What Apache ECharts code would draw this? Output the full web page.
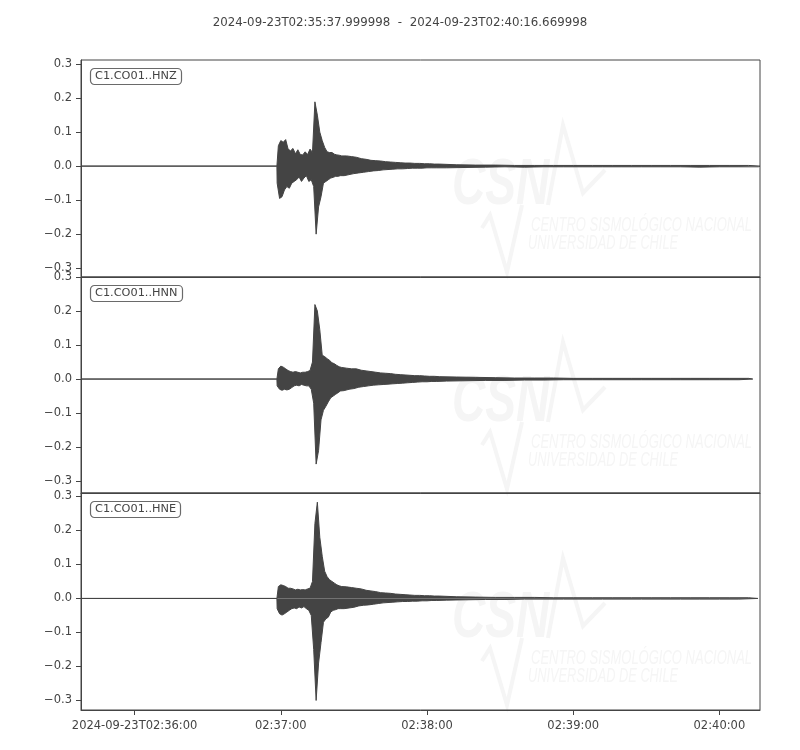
<!DOCTYPE html>
<html><head><meta charset="utf-8">
<script src="https://cdn.jsdelivr.net/npm/echarts@6/dist/echarts.min.js"></script>
<style>html,body{margin:0;padding:0;background:#fff}#c{width:800px;height:750px}</style>
</head><body><div id="c"></div>
<script>
// ---- data (times in seconds after 02:35:00, amplitudes in trace units) ----
const TITLE = '2024-09-23T02:35:37.999998  -  2024-09-23T02:40:16.669998';
const CHANNELS = ['C1.CO01..HNZ', 'C1.CO01..HNN', 'C1.CO01..HNE'];
const TRACE_START = 37.999998;
const TRACE_END = [316.669998, 313.7, 315.8];
const QUIET_END = 118.4;
const SEG_A_START = 118.5, SEG_A_DT = 0.5;
const SEG_B_START = 146, SEG_B_DT = 1;
const SEG_C_START = 188, SEG_C_DT = 4;

const HNZ_A = [-0.05,
  0.06,-0.095,0.075,-0.09,0.07,-0.07,0.078,-0.06,0.05,-0.065,
  0.045,-0.05,0.052,-0.045,0.036,-0.04,0.048,-0.032,0.034,-0.045,
  0.033,-0.035,0.042,-0.028,0.034,-0.045,0.05,-0.04,0.04,-0.06,
  0.189,-0.20,0.15,-0.12,0.10,-0.09,0.075,-0.05,0.055,-0.045,
  0.042,-0.04,0.04,-0.035,0.04,-0.033,0.035,-0.03,0.033,-0.03,
  0.032,-0.028,0.03];
const HNZ_B = [-0.028,0.03,-0.025,0.028,-0.022,0.026,-0.02,0.022,-0.018,0.02,
  -0.016,0.017,-0.014,0.016,-0.013,0.015,-0.011,0.013,-0.01,0.012,
  -0.009,0.011,-0.008,0.01,-0.008,0.009,-0.007,0.009,-0.006,0.008,
  -0.006,0.008,-0.006,0.007,-0.005,0.007,-0.005,0.006,-0.005,0.006];
const HNZ_C = [-0.005,0.004,-0.004,0.003,-0.003,0.003,-0.002,0.002,-0.003,0.002,
  -0.002,0.002,-0.002,0.002,-0.002,0.002,-0.002,0.002,-0.002,0.002,
  -0.002,0.002,-0.002,0.002,-0.002,0.002,-0.003,0.002,-0.002,0.002,
  -0.002,0.002,-0.002];

const HNN_A = [-0.02,
  0.03,-0.03,0.038,-0.033,0.035,-0.03,0.03,-0.032,0.025,-0.03,
  0.022,-0.025,0.02,-0.02,0.022,-0.018,0.02,-0.02,0.018,-0.016,
  0.02,-0.018,0.02,-0.02,0.022,-0.02,0.025,-0.03,0.05,-0.071,
  0.219,-0.25,0.20,-0.21,0.145,-0.12,0.07,-0.092,0.066,-0.08,
  0.06,-0.067,0.055,-0.055,0.048,-0.05,0.045,-0.045,0.04,-0.04,
  0.036,-0.035,0.034];
const HNN_B = [-0.034,0.032,-0.03,0.03,-0.028,0.03,-0.024,0.026,-0.022,0.024,
  -0.02,0.022,-0.018,0.02,-0.017,0.018,-0.016,0.017,-0.015,0.016,
  -0.014,0.014,-0.013,0.013,-0.012,0.012,-0.011,0.011,-0.01,0.01,
  -0.009,0.01,-0.008,0.009,-0.008,0.008,-0.007,0.008,-0.007,0.007];
const HNN_C = [-0.006,0.006,-0.005,0.005,-0.004,0.004,-0.004,0.003,-0.003,0.003,
  -0.003,0.003,-0.002,0.002,-0.002,0.002,-0.002,0.002,-0.002,0.002,
  -0.002,0.002,-0.002,0.002,-0.002,0.002,-0.002,0.002,-0.002,0.002,
  -0.002,0.002];

const HNE_A = [-0.03,
  0.035,-0.045,0.04,-0.049,0.038,-0.045,0.035,-0.04,0.03,-0.035,
  0.03,-0.03,0.028,-0.028,0.025,-0.03,0.027,-0.025,0.025,-0.028,
  0.026,-0.024,0.025,-0.03,0.028,-0.035,0.03,-0.05,0.05,-0.15,
  0.22,-0.30,0.283,-0.19,0.18,-0.13,0.124,-0.07,0.08,-0.06,
  0.064,-0.055,0.055,-0.04,0.05,-0.035,0.045,-0.033,0.04,-0.03,
  0.037,-0.03,0.035];
const HNE_B = [-0.03,0.034,-0.028,0.032,-0.026,0.03,-0.022,0.028,-0.02,0.024,
  -0.019,0.022,-0.017,0.02,-0.015,0.017,-0.013,0.016,-0.012,0.015,
  -0.011,0.013,-0.01,0.012,-0.009,0.011,-0.009,0.01,-0.008,0.009,
  -0.008,0.009,-0.007,0.008,-0.007,0.008,-0.006,0.007,-0.006,0.007];
const HNE_C = [-0.005,0.005,-0.004,0.004,-0.003,0.003,-0.003,0.003,-0.002,0.003,
  -0.002,0.002,-0.002,0.002,-0.002,0.002,-0.002,0.002,-0.002,0.002,
  -0.002,0.002,-0.002,0.002,-0.002,0.002,-0.002,0.002,-0.002,0.002,
  -0.002,0.002];

const X_TICKS = [60, 120, 180, 240, 300];
const X_TICK_LABELS = ['2024-09-23T02:36:00', '02:37:00', '02:38:00', '02:39:00', '02:40:00'];
const Y_TICKS = [-0.3, -0.2, -0.1, 0, 0.1, 0.2, 0.3];
const Y_LIMITS = [[-0.326, 0.312], [-0.335, 0.300], [-0.328, 0.310]];

// ---- build ----
const SEGMENTS = [[HNZ_A, HNZ_B, HNZ_C], [HNN_A, HNN_B, HNN_C], [HNE_A, HNE_B, HNE_C]];
function samples(k) {
  const [a, b, c] = SEGMENTS[k];
  const d = [];
  a.forEach((v, i) => d.push([SEG_A_START + i * SEG_A_DT, v]));
  b.forEach((v, i) => d.push([SEG_B_START + i * SEG_B_DT, v]));
  c.forEach((v, i) => d.push([SEG_C_START + i * SEG_C_DT, v]));
  return d;
}
// envelope of the trace: positive peaks (upper) or negative peaks (lower)
function envelope(k, positive) {
  const pts = samples(k).filter(p => positive ? p[1] > 0 : p[1] < 0);
  return [[TRACE_START, 0], [QUIET_END, 0]].concat(pts, [[TRACE_END[k], 0]]);
}

const FONT = 'DejaVu Sans';
const INK = '#444';
const LEFT = 81, WIDTH = 679;
const TOPS = [60, 277, 493], HEIGHTS = [217, 216, 217];

const fmtY = v => (v < 0 ? '\u2212' : '') + Math.abs(v).toFixed(1);

const grids = [], xAxes = [], yAxes = [], series = [], titles = [], graphics = [];
titles.push({ text: TITLE, left: 'center', top: 12,
  textStyle: { fontFamily: FONT, fontSize: 11.8, fontWeight: 'normal', color: INK } });

for (let k = 0; k < 3; k++) {
  const last = k === 2;
  grids.push({ left: LEFT, top: TOPS[k], width: WIDTH, height: HEIGHTS[k], show: true,
    borderColor: INK, borderWidth: 1, backgroundColor: 'transparent' });
  xAxes.push({ type: 'value', gridIndex: k, min: TRACE_START, max: 316.669998,
    axisLine: { show: true, onZero: false, lineStyle: { color: INK, width: 1 } },
    splitLine: { show: false },
    axisTick: { show: last, customValues: X_TICKS, length: 5, lineStyle: { color: INK } },
    axisLabel: { show: last, customValues: X_TICKS, margin: 10, fontFamily: FONT, fontSize: 11.5, color: INK,
      formatter: v => { const i = X_TICKS.findIndex(t => Math.abs(t - v) < 1e-6); return i >= 0 ? X_TICK_LABELS[i] : ''; } } });
  yAxes.push({ type: 'value', gridIndex: k, min: Y_LIMITS[k][0], max: Y_LIMITS[k][1],
    axisLine: { show: true, lineStyle: { color: INK, width: 1 } },
    splitLine: { show: false },
    axisTick: { show: true, customValues: Y_TICKS, length: 5, lineStyle: { color: INK } },
    axisLabel: { customValues: Y_TICKS, margin: 9, fontFamily: FONT, fontSize: 11.5, color: INK, formatter: fmtY } });
  [true, false].forEach(pos => {
    series.push({ type: 'line', xAxisIndex: k, yAxisIndex: k, data: envelope(k, pos),
      showSymbol: false, symbol: 'none', animation: false, sampling: false, clip: true, z: 3,
      lineStyle: { color: INK, width: 1 },
      areaStyle: { color: INK, opacity: 1, origin: 0 } });
  });
  titles.push({ text: CHANNELS[k], left: 90, top: TOPS[k] + 8, padding: [3, 5, 3, 5],
    borderColor: '#6a6a6a', borderWidth: 1.2, borderRadius: 4, backgroundColor: '#fff',
    textStyle: { fontFamily: FONT, fontSize: 11.3, fontWeight: 'normal', color: INK } });

  // faint watermark (decoration)
  const T = TOPS[k];
  const WM = '#f5f5f5';
  graphics.push({ type: 'text', x: 452, y: T + 94, z: -1, silent: true, scaleX: 0.72,
    style: { text: 'CSN', fill: WM, font: 'italic bold 64px "Liberation Sans"' } });
  graphics.push({ type: 'text', x: 531, y: T + 155, z: -1, silent: true, scaleX: 0.65,
    style: { text: 'CENTRO SISMOLÓGICO NACIONAL', fill: WM, font: 'italic 20px "Liberation Sans"' } });
  graphics.push({ type: 'text', x: 528, y: T + 173, z: -1, silent: true, scaleX: 0.64,
    style: { text: 'UNIVERSIDAD DE CHILE', fill: WM, font: 'italic 20px "Liberation Sans"' } });
  graphics.push({ type: 'polyline', z: -1, silent: true,
    shape: { points: [[482, T + 168], [490, T + 155], [507, T + 212], [522, T + 145]] },
    style: { stroke: WM, lineWidth: 4, fill: null } });
  graphics.push({ type: 'polyline', z: -1, silent: true,
    shape: { points: [[548, T + 145], [563, T + 65], [583, T + 133], [605, T + 110]] },
    style: { stroke: WM, lineWidth: 4, fill: null } });
}

const chart = echarts.init(document.getElementById('c'), null, { renderer: 'canvas' });
chart.setOption({
  backgroundColor: '#fff', animation: false,
  title: titles, grid: grids, xAxis: xAxes, yAxis: yAxes, series: series, graphic: graphics
});
</script></body></html>
